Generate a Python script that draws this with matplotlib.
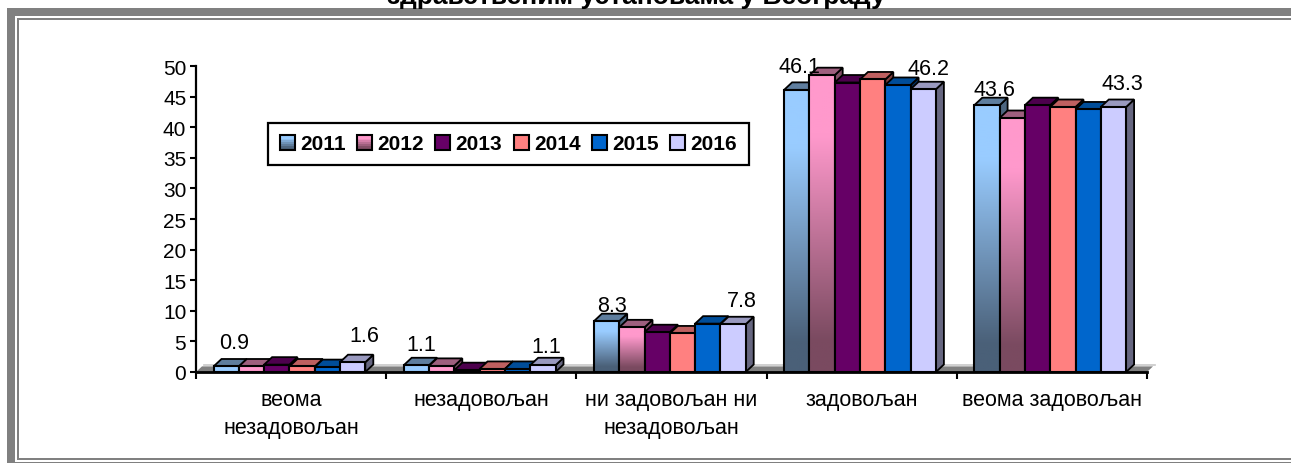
import numpy as np
import matplotlib
matplotlib.use('Agg')
import matplotlib.pyplot as plt
from matplotlib.patches import Polygon, Rectangle, Patch
from matplotlib.legend_handler import HandlerBase
from matplotlib.colors import to_rgb
from matplotlib.transforms import IdentityTransform

plt.rcParams['font.family'] = ['Liberation Sans', 'DejaVu Sans']

# data
categories = ['веома\nнезадовољан', 'незадовољан', 'ни задовољан ни\nнезадовољан', 'задовољан', 'веома задовољан']
years = ['2011', '2012', '2013', '2014', '2015', '2016']
v2011 = [0.9, 1.1, 8.3, 46.1, 43.6]
v2012 = [0.9, 1.0, 7.3, 48.5, 41.5]
v2013 = [1.2, 0.3, 6.5, 47.3, 43.6]
v2014 = [0.9, 0.5, 6.3, 47.8, 43.3]
v2015 = [0.8, 0.5, 7.9, 46.9, 42.9]
v2016 = [1.6, 1.1, 7.8, 46.2, 43.3]
series = [v2011, v2012, v2013, v2014, v2015, v2016]
colors = ['#99ccff', '#ff99cc', '#660066', '#ff8080', '#0066cc', '#ccccff']
dark = {0: '#4a6078', 1: '#7a4a60'}   # bottom colour of the gradient bars
title = 'здравственим установама у Београду'

W, H = 1291, 464
GRAY = '#808080'

# pixel geometry of the plot
x0, x1, ytop, ybot = 196, 1147, 67, 373
cat_px = (x1 - x0) / 5
val_px = (ybot - ytop) / 50
bar_w = 25.3 / cat_px
gap = 17.5 / cat_px
dx = 8 / cat_px
dy = 7.5 / val_px

# label shifts in pixels from bar centre/top: (series, category) -> (dx, dy)
label_off = {(0, 0): (8, 18), (5, 0): (12, 21),
             (0, 1): (5, 15), (5, 1): (3, 13),
             (0, 2): (5, 10), (5, 2): (9, 18),
             (0, 3): (3, 18), (5, 3): (5, 15),
             (0, 4): (7, 10), (5, 4): (9, 18)}


def shade(c, k):
    return tuple(np.array(to_rgb(c)) * k)


def ramp(i, n=64):
    # light near the top, dark near the bottom, row 0 is the top
    t = np.clip((np.linspace(0, 1, n) - 0.2) / 0.7, 0, 1)[:, None]
    return np.array(to_rgb(dark[i]))[None, :] * t + np.array(to_rgb(colors[i]))[None, :] * (1 - t)


class SwatchHandler(HandlerBase):
    def create_artists(self, legend, orig, xd, yd, width, height, fontsize, trans):
        i = orig.idx
        out = []
        if i in dark:
            rows = ramp(i, 8)
            for k, c in enumerate(rows):
                out.append(Rectangle((-xd, -yd + height * (7 - k) / 8), width, height / 8,
                                     facecolor=c, edgecolor='none', transform=trans))
        else:
            out.append(Rectangle((-xd, -yd), width, height, facecolor=colors[i],
                                 edgecolor='none', transform=trans))
        out.append(Rectangle((-xd, -yd), width, height, facecolor='none', edgecolor='black',
                             linewidth=1.5, transform=trans))
        return out


fig = plt.figure(figsize=(W / 100, H / 100), dpi=100, facecolor='white')
ax = fig.add_axes([x0 / W, 1 - ybot / H, (x1 - x0) / W, (ybot - ytop) / H])
ax.set_facecolor('none')

# floor
ax.add_patch(Polygon([(0, 0), (dx * 0.75, dy * 0.75), (5 + dx * 0.75, dy * 0.75), (5, 0)], closed=True,
                     facecolor=GRAY, edgecolor='none', zorder=1, clip_on=False))
ax.plot([dx, 5 + dx], [dy, dy], color='#c8c8c8', lw=1.2, zorder=1.1, clip_on=False)

# 3d bars, painted left to right
z = 2
for c in range(len(categories)):
    for s, vals in enumerate(series):
        v = vals[c]
        l = c + gap + s * bar_w
        r = l + bar_w
        col = colors[s]
        top_k = 0.62 if s in dark else 0.75
        ax.add_patch(Polygon([(r, 0), (r + dx, dy), (r + dx, v + dy), (r, v)], closed=True,
                             facecolor=shade(col, 0.5), edgecolor='black', lw=1.3, zorder=z, clip_on=False))
        ax.add_patch(Polygon([(l, v), (l + dx, v + dy), (r + dx, v + dy), (r, v)], closed=True,
                             facecolor=shade(col, top_k), edgecolor='black', lw=1.3, zorder=z + 0.1, clip_on=False))
        if s in dark and v > 5:
            ax.imshow(ramp(s)[:, None, :], extent=(l, r, 0, v), aspect='auto', zorder=z + 0.2,
                      interpolation='bilinear')
            fc = 'none'
        else:
            fc = col
        ax.add_patch(Rectangle((l, 0), bar_w, v, facecolor=fc, edgecolor='black', lw=1.5,
                               zorder=z + 0.3, clip_on=False))
        if (s, c) in label_off:
            off = label_off[(s, c)]
            ax.annotate(f'{v:.1f}', ((l + r) / 2, v), xytext=off, textcoords='offset pixels',
                        ha='center', va='baseline', fontsize=15.5, color='black', zorder=50)
        z += 1

ax.set_xlim(0, 5)
ax.set_ylim(0, 50)
for sp in ['top', 'right']:
    ax.spines[sp].set_visible(False)
ax.spines['left'].set_linewidth(1.6)
ax.spines['bottom'].set_linewidth(2.0)
ax.spines['left'].set_zorder(40)
ax.spines['bottom'].set_zorder(40)
ax.set_yticks(np.arange(0, 51, 5))
ax.tick_params(axis='y', length=4, width=1.5, pad=3, labelsize=15)
ax.set_xticks(np.arange(6))
ax.set_xticklabels([])
ax.tick_params(axis='x', which='major', length=5, width=1.5)
ax.set_xticks(np.arange(5) + 0.5, minor=True)
ax.set_xticklabels(categories, minor=True, fontsize=15.5, linespacing=1.45)
ax.tick_params(axis='x', which='minor', length=0, pad=12)

# legend
handles = []
for i, y in enumerate(years):
    p = Patch(label=y)
    p.idx = i
    handles.append(p)
leg = ax.legend(handles=handles, ncol=6, loc='center', bbox_to_anchor=(508.5 / W, 1 - 145 / H),
                bbox_transform=fig.transFigure, handler_map={Patch: SwatchHandler()},
                prop={'weight': 'bold', 'size': 15}, fancybox=False, framealpha=1, edgecolor='black',
                handlelength=0.72, handleheight=0.72, handletextpad=0.25, columnspacing=0.55,
                borderpad=0.55, borderaxespad=0)
leg.get_frame().set_linewidth(1.6)
leg.set_zorder(60)

# outer frame, in pixels from the top left
def frame(x, y, w, h):
    fig.add_artist(Rectangle((x, H - y - h), w, h, facecolor=GRAY, edgecolor='none',
                             transform=IdentityTransform()))

frame(7, 9, W - 7, 8)
frame(7, 9, 8, H - 9)
frame(7, 463, W - 7, 1)
frame(17, 19, W - 17, 2)
frame(17, 19, 2, 442)
frame(17, 459, W - 17, 2)

fig.text(636 / W, 1 - 4 / H, title, ha='center', va='baseline', fontsize=19, fontweight='bold')

fig.savefig('out.png', dpi=100)
